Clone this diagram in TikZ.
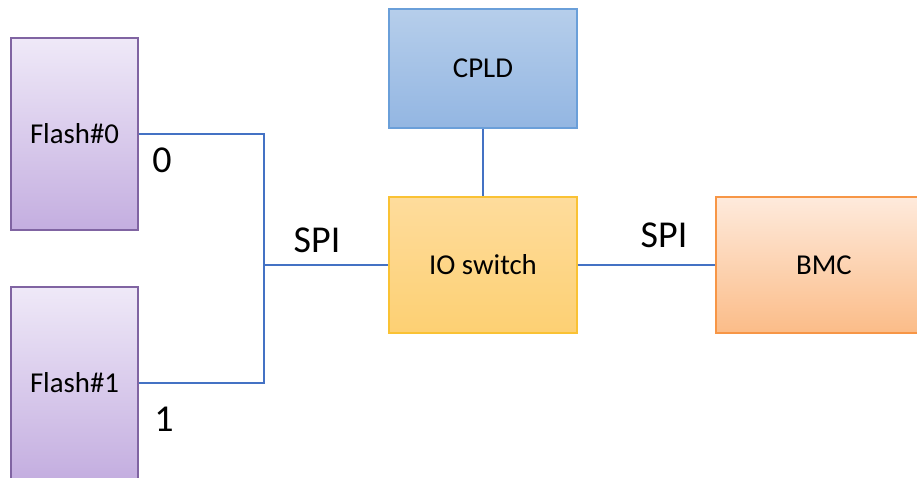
\documentclass[tikz,border=0pt]{standalone}
\usepackage{fontspec}
\setmainfont{Carlito}
\begin{document}
\begin{tikzpicture}[x=1pt,y=-1pt,
  blk/.style={rectangle, inner sep=0pt, line width=1.3pt, font=\fontsize{28.8}{34}\selectfont, text=black},
  flashbox/.style={blk, draw=flashB, top color=flashT, bottom color=flashM, minimum width=127pt, minimum height=192pt},
  cpldbox/.style={blk, draw=cpldB, top color=cpldT, bottom color=cpldM, minimum width=188pt, minimum height=119pt},
  iobox/.style={blk, draw=ioB, top color=ioT, bottom color=ioM, minimum width=188pt, minimum height=136pt},
  bmcbox/.style={blk, draw=bmcB, top color=bmcT, bottom color=bmcM, minimum width=216pt, minimum height=136pt},
  wire/.style={draw=wireC, line width=1.2pt},
  lbl/.style={font=\fontsize{38}{44}\selectfont, text=black, inner sep=0pt}
]
\definecolor{flashB}{HTML}{8064A2}
\definecolor{flashT}{HTML}{EFE9F8}
\definecolor{flashM}{HTML}{C4AEE0}
\definecolor{cpldB}{HTML}{6A9FD9}
\definecolor{cpldT}{HTML}{B6CEEB}
\definecolor{cpldM}{HTML}{93B6E2}
\definecolor{ioB}{HTML}{FAC234}
\definecolor{ioT}{HTML}{FEDC9C}
\definecolor{ioM}{HTML}{FDD073}
\definecolor{bmcB}{HTML}{F79646}
\definecolor{bmcT}{HTML}{FEEADC}
\definecolor{bmcM}{HTML}{FBBC88}
\definecolor{wireC}{HTML}{4472C4}
\useasboundingbox (0,0) rectangle (917,477);
\clip (0,0) rectangle (917,477);
\node[flashbox] (f0) at (74.5,134) {Flash\#0};
\node[flashbox] (f1) at (74.5,383) {Flash\#1};
\node[cpldbox] (cpld) at (483,68.5) {CPLD};
\node[iobox] (io) at (483,265) {IO switch};
\node[bmcbox] (bmc) at (824,265) {BMC};
\coordinate (j) at (264,265);
\draw[wire] (f0.east) -| (j) |- (f1.east);
\draw[wire] (j) -- (io.west);
\draw[wire] (io.east) -- (bmc.west);
\draw[wire] (cpld.south) -- (io.north);
\node[lbl] (l0) at (162,160) {0};
\node[lbl] (l1) at (164,419) {1};
\node[lbl] (spi1) at (317,240) {SPI};
\node[lbl] (spi2) at (664,235) {SPI};
\end{tikzpicture}
\end{document}
